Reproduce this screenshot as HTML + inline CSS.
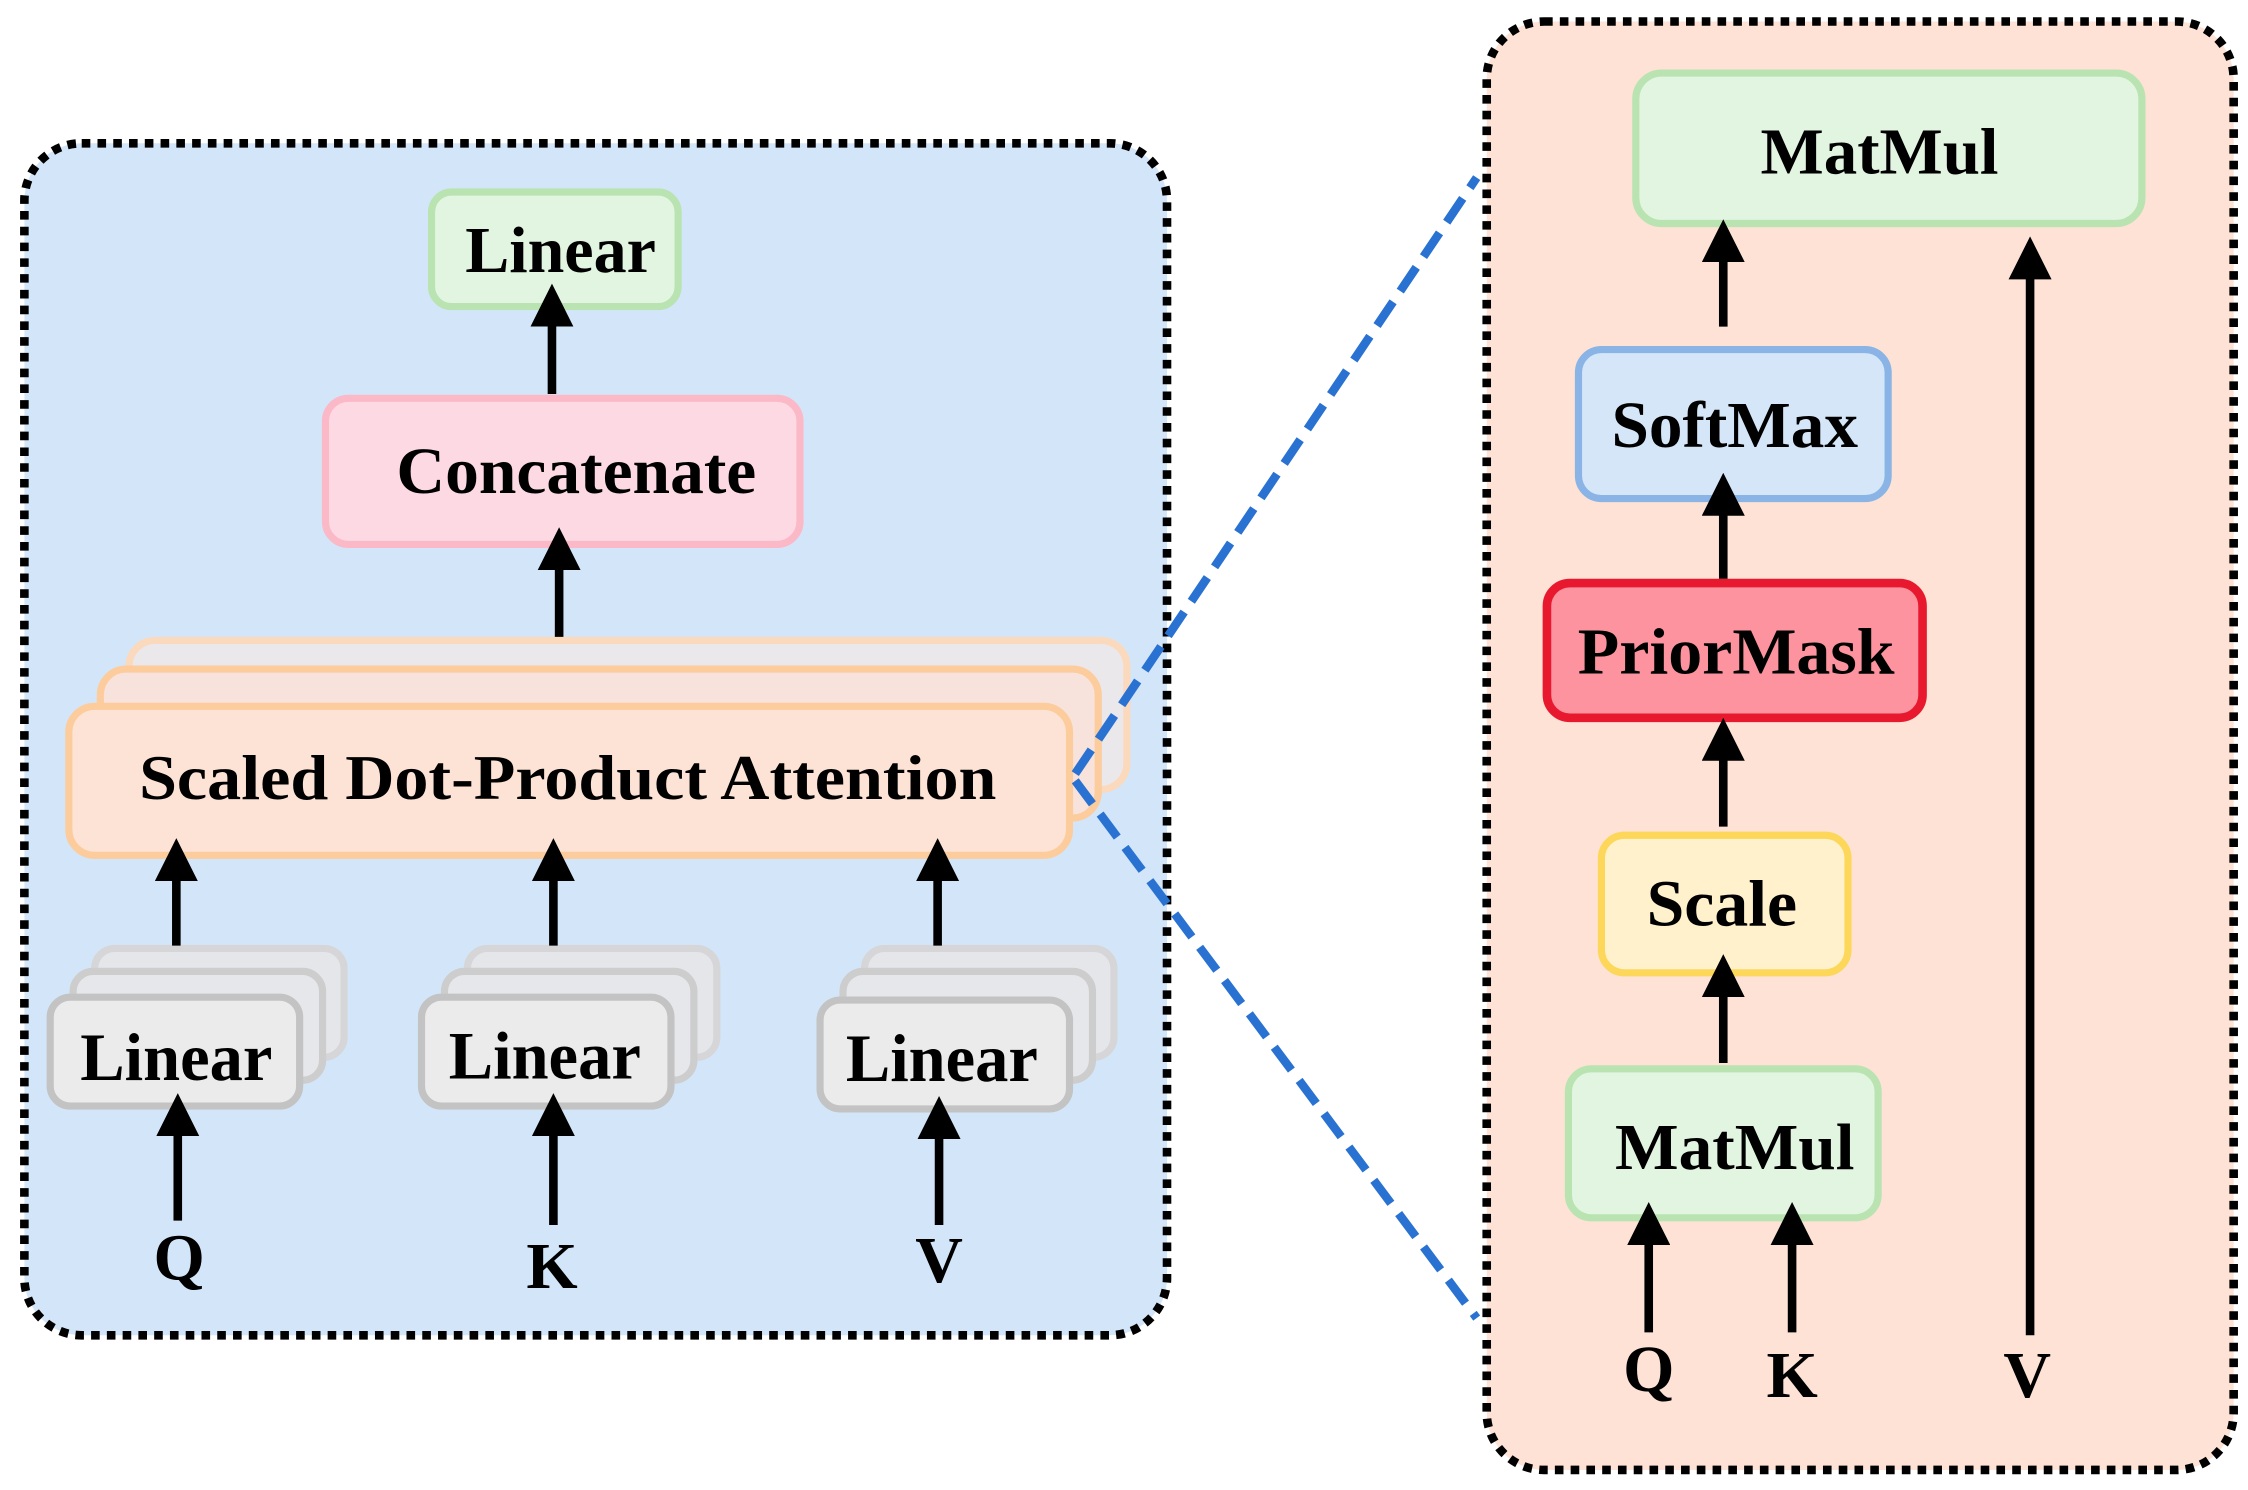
<!DOCTYPE html>
<html><head><meta charset="utf-8"><style>html,body{margin:0;padding:0;background:#fff}svg{display:block}</style></head>
<body>
<svg width="2248" height="1490" viewBox="0 0 1568 1040" preserveAspectRatio="none" xmlns="http://www.w3.org/2000/svg">
<defs>
<marker id="ah" markerWidth="5" markerHeight="5" refX="0.5" refY="2.5" orient="auto" markerUnits="strokeWidth"><path d="M0,0 L5,2.5 L0,5 z" fill="#000"/></marker>
</defs>
<style>
text{font-family:"Liberation Serif",serif;font-weight:bold;text-anchor:middle;dominant-baseline:central;fill:#000}
.ar{stroke:#000;stroke-width:6;fill:none;marker-end:url(#ah)}
</style>
<!-- panels -->
<rect x="17" y="100" width="797" height="832" rx="40" fill="#d3e6f9" stroke="#000" stroke-width="6" stroke-dasharray="6 5"/>
<rect x="1037" y="15" width="521" height="1011" rx="40" fill="#fde2d5" stroke="#000" stroke-width="6" stroke-dasharray="6 5"/>
<!-- left top -->
<rect x="301" y="134" width="172" height="80" rx="14" fill="#e2f5e1" stroke="#b9e4b1" stroke-width="5"/>
<text x="391" y="175" font-size="46" textLength="133" lengthAdjust="spacingAndGlyphs">Linear</text>
<rect x="227" y="278" width="331" height="102" rx="16" fill="#fdd9e4" stroke="#fbb8c6" stroke-width="5"/>
<text x="402" y="329" font-size="46" textLength="251" lengthAdjust="spacingAndGlyphs">Concatenate</text>
<line class="ar" x1="385" y1="275" x2="385" y2="225"/>
<line class="ar" x1="390" y1="445" x2="390" y2="395"/>
<!-- attention stack -->
<rect x="90" y="447" width="696" height="104" rx="18" fill="#ebe8ec" stroke="#fbd9bd" stroke-width="5"/>
<rect x="70" y="467" width="696" height="104" rx="18" fill="#f8e2dc" stroke="#fccc9d" stroke-width="5"/>
<rect x="48" y="493" width="698" height="104" rx="18" fill="#fde3d5" stroke="#fccc9d" stroke-width="5"/>
<text x="396" y="543" font-size="44" textLength="598" lengthAdjust="spacingAndGlyphs">Scaled Dot-Product Attention</text>
<!-- dashed connectors -->
<line x1="750" y1="540" x2="1030" y2="124" stroke="#2a72d2" stroke-width="6" stroke-dasharray="20 9"/>
<line x1="750" y1="545" x2="1030" y2="920" stroke="#2a72d2" stroke-width="6" stroke-dasharray="20 9"/>
<!-- linear groups -->
<g fill="#ebebeb" stroke="#c3c3c3" stroke-width="5">
<rect x="66" y="662" width="174" height="76" rx="14" fill="#e4e6ea" stroke="#d6d6d8"/>
<rect x="51" y="678" width="174" height="76" rx="14" fill="#e6e7ea" stroke="#cdcdcd"/>
<rect x="35" y="696" width="174" height="76" rx="14"/>
<rect x="326" y="662" width="174" height="76" rx="14" fill="#e4e6ea" stroke="#d6d6d8"/>
<rect x="310" y="678" width="174" height="76" rx="14" fill="#e6e7ea" stroke="#cdcdcd"/>
<rect x="294" y="696" width="174" height="76" rx="14"/>
<rect x="603" y="662" width="174" height="76" rx="14" fill="#e4e6ea" stroke="#d6d6d8"/>
<rect x="588" y="678" width="174" height="76" rx="14" fill="#e6e7ea" stroke="#cdcdcd"/>
<rect x="572" y="698" width="174" height="76" rx="14"/>
</g>
<text x="123" y="738" font-size="47" textLength="134" lengthAdjust="spacingAndGlyphs">Linear</text>
<text x="380" y="737" font-size="47" textLength="134" lengthAdjust="spacingAndGlyphs">Linear</text>
<text x="657" y="739" font-size="47" textLength="134" lengthAdjust="spacingAndGlyphs">Linear</text>
<line class="ar" x1="123" y1="660" x2="123" y2="612"/>
<line class="ar" x1="386" y1="660" x2="386" y2="612"/>
<line class="ar" x1="654" y1="660" x2="654" y2="612"/>
<line class="ar" x1="124" y1="852" x2="124" y2="790"/>
<line class="ar" x1="386" y1="855" x2="386" y2="790"/>
<line class="ar" x1="655" y1="855" x2="655" y2="792"/>
<text x="125" y="878" font-size="46">Q</text>
<text x="385" y="884" font-size="46">K</text>
<text x="655" y="880" font-size="46">V</text>
<!-- right -->
<rect x="1141" y="51" width="353" height="105" rx="18" fill="#e2f5e1" stroke="#b9e4b1" stroke-width="5"/>
<text x="1311" y="106" font-size="46" textLength="166" lengthAdjust="spacingAndGlyphs">MatMul</text>
<rect x="1101" y="244" width="216" height="104" rx="16" fill="#d5e6f8" stroke="#8ab4e6" stroke-width="5"/>
<text x="1210" y="297" font-size="46" textLength="172" lengthAdjust="spacingAndGlyphs">SoftMax</text>
<rect x="1079" y="407" width="262" height="94" rx="16" fill="#fc939e" stroke="#e8192f" stroke-width="6"/>
<text x="1211" y="455" font-size="46" textLength="221" lengthAdjust="spacingAndGlyphs">PriorMask</text>
<rect x="1117" y="583" width="172" height="96" rx="16" fill="#fff1cc" stroke="#fdd75a" stroke-width="5"/>
<text x="1201" y="631" font-size="46" textLength="105" lengthAdjust="spacingAndGlyphs">Scale</text>
<rect x="1094" y="746" width="216" height="104" rx="16" fill="#e2f5e1" stroke="#b9e4b1" stroke-width="5"/>
<text x="1210" y="801" font-size="46" textLength="167" lengthAdjust="spacingAndGlyphs">MatMul</text>
<line class="ar" x1="1202" y1="228" x2="1202" y2="180"/>
<line class="ar" x1="1202" y1="404" x2="1202" y2="357"/>
<line class="ar" x1="1202" y1="577" x2="1202" y2="528"/>
<line class="ar" x1="1202" y1="742" x2="1202" y2="693"/>
<line class="ar" x1="1150" y1="930" x2="1150" y2="866"/>
<line class="ar" x1="1250" y1="930" x2="1250" y2="866"/>
<line class="ar" x1="1416" y1="932" x2="1416" y2="192"/>
<text x="1150" y="956" font-size="46">Q</text>
<text x="1250" y="960" font-size="46">K</text>
<text x="1414" y="960" font-size="46">V</text>
</svg>
</body></html>
